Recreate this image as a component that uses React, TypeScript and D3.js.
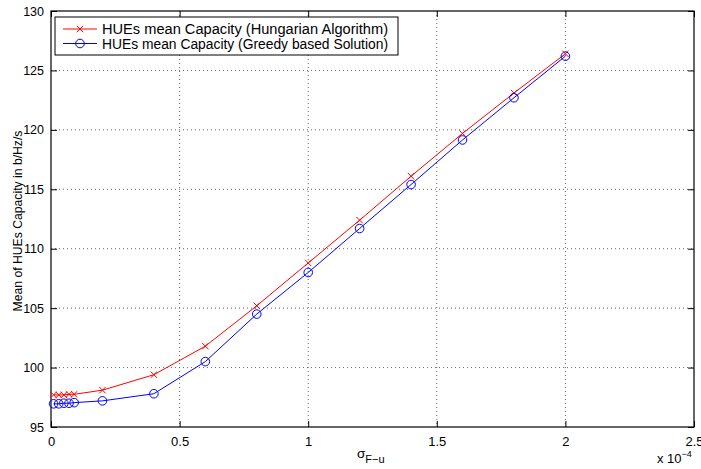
import React, { useRef, useEffect } from 'react';
import * as d3 from 'd3';

// sigma values (x 1e-4)
const sigma = [0.01, 0.03, 0.05, 0.07, 0.09, 0.2, 0.4, 0.6, 0.8, 1.0, 1.2, 1.4, 1.6, 1.8, 2.0];
const hungarian = [97.7, 97.7, 97.7, 97.75, 97.75, 98.1, 99.4, 101.8, 105.2, 108.8, 112.4, 116.1, 119.7, 123.1, 126.4];
const greedy = [96.95, 96.95, 97.0, 97.0, 97.05, 97.2, 97.8, 100.5, 104.5, 108.0, 111.7, 115.4, 119.15, 122.7, 126.2];
const xTicks = [0, 0.5, 1, 1.5, 2, 2.5];
const yTicks = [95, 100, 105, 110, 115, 120, 125, 130];
const legendLabels = ['HUEs mean Capacity (Hungarian Algorithm)', 'HUEs mean Capacity (Greedy based Solution)'];

function App() {
  const ref = useRef<SVGSVGElement>(null);

  useEffect(() => {
    const svg = d3.select(ref.current);
    svg.selectAll('*').remove();

    const left = 51, right = 694, top = 11, bottom = 427;
    const x = d3.scaleLinear().domain([0, 2.5]).range([left, right]);
    const y = d3.scaleLinear().domain([95, 130]).range([bottom, top]);
    const font = 'Liberation Sans, Arial, sans-serif';

    svg.append('rect').attr('width', 701).attr('height', 469).attr('fill', '#fff');

    // grid
    const grid = svg.append('g').attr('stroke', '#666').attr('stroke-width', 1).attr('stroke-dasharray', '1,3');
    xTicks.slice(1, -1).forEach((t) => {
      grid.append('line').attr('x1', x(t)).attr('x2', x(t)).attr('y1', top).attr('y2', bottom);
    });
    yTicks.slice(1, -1).forEach((t) => {
      grid.append('line').attr('x1', left).attr('x2', right).attr('y1', y(t)).attr('y2', y(t));
    });

    // axes (ticks inside, MATLAB style)
    const axB = svg.append('g').attr('transform', `translate(0,${bottom})`)
      .call(d3.axisBottom(x).tickValues(xTicks).tickSizeInner(-6).tickSizeOuter(0).tickPadding(10).tickFormat((d) => String(d)));
    const axT = svg.append('g').attr('transform', `translate(0,${top})`)
      .call(d3.axisTop(x).tickValues(xTicks).tickSizeInner(-6).tickSizeOuter(0).tickFormat(() => ''));
    const axL = svg.append('g').attr('transform', `translate(${left},0)`)
      .call(d3.axisLeft(y).tickValues(yTicks).tickSizeInner(-6).tickSizeOuter(0).tickPadding(7));
    const axR = svg.append('g').attr('transform', `translate(${right},0)`)
      .call(d3.axisRight(y).tickValues(yTicks).tickSizeInner(-6).tickSizeOuter(0).tickFormat(() => ''));
    [axB, axT, axL, axR].forEach((a) => {
      a.select('.domain').remove();
      a.selectAll('line').attr('stroke', '#000');
      a.selectAll('text').attr('font-family', font).attr('font-size', 13).attr('fill', '#000');
    });
    axL.selectAll('text').attr('font-size', 12.5);

    svg.append('rect').attr('x', left).attr('y', top).attr('width', right - left).attr('height', bottom - top)
      .attr('fill', 'none').attr('stroke', '#000').attr('stroke-width', 1.2);

    const line = d3.line<number>().x((_, i) => x(sigma[i])).y((d) => y(d));

    const drawX = (g: any, cx: number, cy: number, s: number) => {
      g.append('path').attr('d', `M${cx - s},${cy - s}L${cx + s},${cy + s}M${cx - s},${cy + s}L${cx + s},${cy - s}`)
        .attr('stroke', 'red').attr('stroke-width', 1);
    };

    svg.append('path').datum(hungarian).attr('d', line).attr('fill', 'none').attr('stroke', 'red').attr('stroke-width', 1);
    svg.append('path').datum(greedy).attr('d', line).attr('fill', 'none').attr('stroke', 'blue').attr('stroke-width', 1);
    const mk = svg.append('g');
    hungarian.forEach((v, i) => drawX(mk, x(sigma[i]), y(v), 3.2));
    greedy.forEach((v, i) => {
      mk.append('circle').attr('cx', x(sigma[i])).attr('cy', y(v)).attr('r', 4.3)
        .attr('fill', 'none').attr('stroke', 'blue').attr('stroke-width', 1);
    });

    // legend
    const lg = svg.append('g');
    lg.append('rect').attr('x', 55).attr('y', 17).attr('width', 343).attr('height', 38)
      .attr('fill', '#fff').attr('stroke', '#000').attr('stroke-width', 1);
    const colors = ['red', 'blue'];
    legendLabels.forEach((lab, i) => {
      const ly = 29 + i * 14.5;
      lg.append('line').attr('x1', 63).attr('x2', 97).attr('y1', ly).attr('y2', ly).attr('stroke', colors[i]);
      if (i === 0) drawX(lg, 80, ly, 3.2);
      else lg.append('circle').attr('cx', 80).attr('cy', ly).attr('r', 4.3).attr('fill', 'none').attr('stroke', 'blue');
      lg.append('text').attr('x', 102).attr('y', ly + 5).attr('font-family', font).attr('font-size', 14)
        .attr('textLength', 286).attr('lengthAdjust', 'spacingAndGlyphs').text(lab);
    });

    // axis labels
    svg.append('text').attr('transform', `translate(21.5,221) rotate(-90)`)
      .attr('text-anchor', 'middle').attr('font-family', font).attr('font-size', 12.2).text('Mean of HUEs Capacity in b/Hz/s');
    const xl = svg.append('text').attr('x', 357).attr('y', 458)
      .attr('font-family', font).attr('font-size', 13.5);
    xl.append('tspan').text('σ');
    xl.append('tspan').attr('dy', 5).attr('font-size', 11).text('F−u');
    const ex = svg.append('text').attr('x', 657).attr('y', 463).attr('font-family', font).attr('font-size', 13);
    ex.append('tspan').text('x 10');
    ex.append('tspan').attr('dy', -6).attr('font-size', 9).text('−4');
  }, []);

  return <svg ref={ref} width={701} height={469} style={{ position: 'absolute', left: 0, top: 0 }} />;
}

export default App;
